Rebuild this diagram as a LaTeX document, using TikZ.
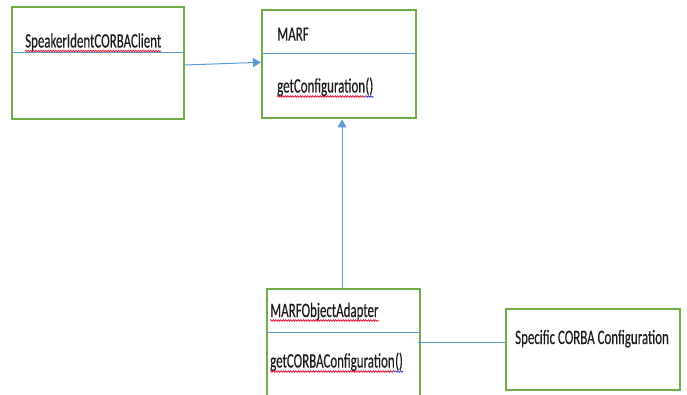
\documentclass[tikz,border=0pt]{standalone}
\usepackage{fontspec}
\setmainfont[FakeStretch=0.63,FakeBold=0.3]{Carlito}
\usetikzlibrary{arrows.meta,decorations.pathmorphing}
\definecolor{boxgreen}{HTML}{70AD47}
\definecolor{lineblue}{HTML}{5B9BD5}
\definecolor{txt}{HTML}{1A1A1A}
\definecolor{squigred}{HTML}{E0102F}
\definecolor{squigblue}{HTML}{2030D0}
\tikzset{
  classbox/.style={draw=boxgreen, line width=2pt},
  divider/.style={draw=lineblue, line width=1.2pt},
  conn/.style={draw=lineblue, line width=1pt},
  arr/.style={conn, -{Triangle[length=8pt,width=9pt]}},
  lbl/.style={inner sep=0pt, anchor=base west, text=txt, font=\fontsize{20.5}{24}\selectfont},
  squig/.style={line width=0.7pt, decorate, decoration={snake, amplitude=0.8pt, segment length=2.5pt}},
}
\begin{document}
\begin{tikzpicture}[x=1pt,y=-1pt]
\useasboundingbox (0,0) rectangle (687,395);
% box 1
\draw[classbox] (12.3,7.3) rectangle (183.7,119);
\draw[divider] (12.3,52.3) -- (183.7,52.3);
\node[lbl] (t1) at (25,47.5) {SpeakerIdentCORBAClient};
\draw[squig, squigred] ([yshift=-3.5pt]t1.base west) -- ([yshift=-3.5pt]t1.base east);
% box 2
\draw[classbox] (262,10) rectangle (415.7,118.3);
\draw[divider] (262,53.3) -- (415.7,53.3);
\node[lbl] (t2) at (277,40.7) {MARF};
\node[lbl] (t3) at (277,92.5) {getConfiguration};
\node[lbl] (t3b) at (t3.base east) {()};
\draw[squig, squigred] ([yshift=-4pt]t3.base west) -- ([yshift=-4pt]t3.base east);
\draw[squig, squigblue] ([yshift=-4pt]t3b.base west) -- ([yshift=-4pt]t3b.base east);
% box 3 (cut off at bottom)
\draw[classbox] (266.7,395) -- (266.7,289) -- (420,289) -- (420,395);
\draw[divider] (266.7,332.3) -- (420,332.3);
\node[lbl] (t4) at (270,317) {MARFObjectAdapter};
\draw[squig, squigred] ([yshift=-3.5pt]t4.base west) -- ([yshift=-3.5pt]t4.base east);
\node[lbl] (t5) at (270,367.5) {getCORBAConfiguration};
\node[lbl] (t5b) at (t5.base east) {()};
\draw[squig, squigred] ([yshift=-4pt]t5.base west) -- ([yshift=-4pt]t5.base east);
\draw[squig, squigblue] ([yshift=-4pt]t5b.base west) -- ([yshift=-4pt]t5b.base east);
% box 4
\draw[classbox] (505.7,309) rectangle (680,390);
\node[lbl] (t6) at (515,344) {Specific CORBA Configuration};
% named connector endpoints
\coordinate (c1s) at (184.5,65);
\coordinate (c1e) at (261,62.3);
\coordinate (c2s) at (342,289);
\coordinate (c2e) at (342,119.5);
\coordinate (c3s) at (418,342.7);
\coordinate (c3e) at (505,342.7);
\draw[arr] (c1s) -- (c1e);
\draw[arr] (c2s) -- (c2e);
\draw[conn] (c3s) -- (c3e);
\end{tikzpicture}
\end{document}
